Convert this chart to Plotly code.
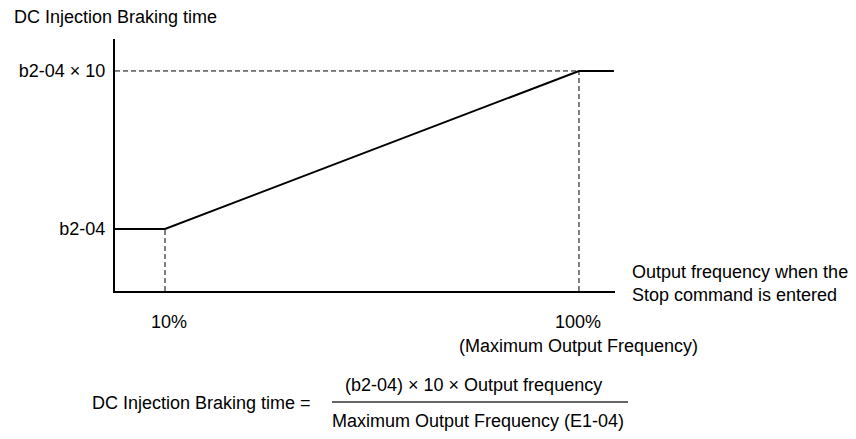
import plotly.graph_objects as go

# ---- data ----
freq_pct = [-0.87, 10, 100, 107.6]          # output frequency (% of max)
brake_time = [1, 1, 10, 10]                 # braking time in units of b2-04
y_tick_vals = [1, 10]
y_tick_text = ["b2-04", "b2-04 × 10"]
x_tick_vals = [10, 100]
x_tick_text = ["10%", "100%"]
x_tick_sub = ["", "(Maximum Output Frequency)"]
y_title = "DC Injection Braking time"
x_title = "Output frequency when the<br>Stop command is entered"
formula_left = "DC Injection Braking time ="
formula_num = "(b2-04) × 10 × Output frequency"
formula_den = "Maximum Output Frequency (E1-04)"

# page has an 8px body margin -> compensate
OFF = 8
W, H = 856 - OFF, 439 - OFF
L, R, T, B = 115, 615, 39, 291      # plot area in page pixels
XR = [-0.87, 107.83]
YR = [-2.53, 11.82]

def px(x):
    return (x - L) / (R - L)

def py(y):
    return (B - y) / (B - T)

FONT = "Liberation Sans, Arial, sans-serif"
FS = 18

fig = go.Figure()

dash = dict(color="black", width=1, dash="5px,3px")
fig.add_trace(go.Scatter(x=[XR[0], x_tick_vals[1]], y=[y_tick_vals[1], y_tick_vals[1]],
                         mode="lines", line=dash, hoverinfo="skip", showlegend=False))
fig.add_trace(go.Scatter(x=[x_tick_vals[0], x_tick_vals[0]], y=[YR[0], y_tick_vals[0]],
                         mode="lines", line=dash, hoverinfo="skip", showlegend=False))
fig.add_trace(go.Scatter(x=[x_tick_vals[1], x_tick_vals[1]], y=[YR[0], y_tick_vals[1]],
                         mode="lines", line=dash, hoverinfo="skip", showlegend=False))

fig.add_trace(go.Scatter(x=freq_pct, y=brake_time, mode="lines",
                         line=dict(color="black", width=2),
                         hoverinfo="skip", showlegend=False))

fig.update_xaxes(range=XR, showgrid=False, zeroline=False, showline=True,
                 linecolor="black", linewidth=2, showticklabels=False, ticks="")
fig.update_yaxes(range=YR, showgrid=False, zeroline=False, showline=True,
                 linecolor="black", linewidth=2, ticks="", tickvals=y_tick_vals,
                 ticktext=y_tick_text, ticklabelstandoff=4,
                 tickfont=dict(family=FONT, size=FS, color="black"))

ann = []
ann.append(dict(text=y_title, xref="paper", yref="paper", x=px(12), y=py(17),
                xanchor="left", yanchor="middle", showarrow=False))
ann.append(dict(text=x_title, xref="paper", yref="paper", x=px(630), y=py(283),
                xanchor="left", yanchor="middle", showarrow=False, align="left"))
x_label_px = [169, 578]
for xv, lab, sub, lp in zip(x_tick_vals, x_tick_text, x_tick_sub, x_label_px):
    ann.append(dict(text=lab, xref="paper", yref="paper", x=px(lp), y=py(322),
                    xanchor="center", yanchor="middle", showarrow=False))
    if sub:
        ann.append(dict(text=sub, xref="paper", yref="paper", x=px(lp), y=py(346),
                        xanchor="center", yanchor="middle", showarrow=False))
ann.append(dict(text=formula_left, xref="paper", yref="paper", x=px(313), y=py(403),
                xanchor="right", yanchor="middle", showarrow=False))
ann.append(dict(text=formula_num, xref="paper", yref="paper", x=px(473), y=py(385),
                xanchor="center", yanchor="middle", showarrow=False))
ann.append(dict(text=formula_den, xref="paper", yref="paper", x=px(478), y=py(421),
                xanchor="center", yanchor="middle", showarrow=False))

fig.update_layout(
    width=W, height=H,
    margin=dict(l=L - OFF, r=(W + OFF) - R, t=T - OFF, b=(H + OFF) - B, pad=0),
    plot_bgcolor="white", paper_bgcolor="white",
    font=dict(family=FONT, size=FS, color="black"),
    annotations=ann,
    shapes=[dict(type="line", xref="paper", yref="paper",
                 x0=px(332), x1=px(628), y0=py(402), y1=py(402),
                 line=dict(color="#333333", width=1.5))],
)

fig.write_html("out.html")
